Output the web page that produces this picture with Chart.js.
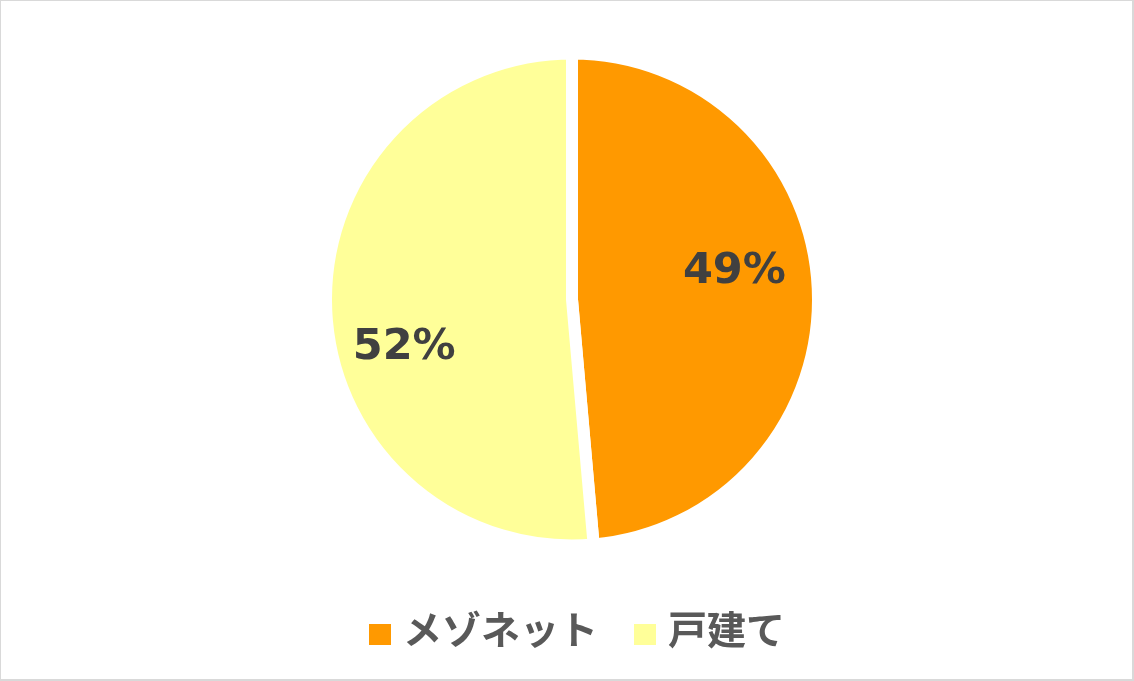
<!DOCTYPE html>
<html lang="ja">
<head>
<meta charset="utf-8">
<title>メゾネット / 戸建て</title>
<script src="https://cdn.jsdelivr.net/npm/chart.js@4.4.1/dist/chart.umd.min.js"></script>
<style>
    html, body { margin: 0; padding: 0; background: #fff; }
    #wrap {
        position: relative;
        width: 1134px;
        height: 681px;
        box-sizing: border-box;
        border: 1px solid #d9d9d9;
        border-right-width: 2px;
        border-bottom-width: 2px;
        background: #fff;
    }
    #legend {
        position: absolute;
        left: 368px;
        top: 606px;
        height: 40px;
        display: flex;
        align-items: center;
        font: bold 39px 'Noto Sans CJK JP', 'Noto Sans', sans-serif;
        line-height: 40px;
        color: #595959;
        white-space: nowrap;
    }
    #legend .item { display: flex; align-items: center; margin-right: 36px; }
    #legend .box { width: 22px; height: 21px; margin-right: 12px; transform: translateY(7px); }
</style>
</head>
<body>
<div id="wrap">
    <canvas id="pieChart"></canvas>
    <div id="legend"></div>
</div>
<script>
// categories and values (share of answers, %)
const categories = ['メゾネット', '戸建て'];
const shares = [48.6, 51.4];
// labels as printed on the slices
const shareLabels = ['49%', '52%'];
const sliceColors = ['#FF9900', '#FFFF99'];

// draws the percent text inside each slice
const sliceLabelPlugin = {
    id: 'sliceLabels',
    afterDatasetsDraw(chart, args, opts) {
        const meta = chart.getDatasetMeta(0);
        const ctx = chart.ctx;
        ctx.save();
        ctx.font = opts.font;
        ctx.fillStyle = opts.color;
        ctx.textAlign = 'center';
        ctx.textBaseline = 'middle';
        meta.data.forEach((arc, i) => {
            const p = arc.getProps(['x', 'y', 'startAngle', 'endAngle', 'outerRadius'], true);
            const a = (p.startAngle + p.endAngle) / 2 + opts.shift[i] * Math.PI / 180;
            const r = p.outerRadius * opts.dist[i];
            ctx.fillText(shareLabels[i], p.x + Math.cos(a) * r, p.y + Math.sin(a) * r);
        });
        ctx.restore();
    }
};

const chart = new Chart(document.getElementById('pieChart'), {
    type: 'pie',
    data: {
        labels: categories,
        datasets: [{
            data: shares,
            backgroundColor: sliceColors,
            borderColor: '#ffffff',
            borderWidth: 12,
            hoverOffset: 0
        }]
    },
    options: {
        responsive: true,
        maintainAspectRatio: false,
        animation: false,
        radius: 246,
        layout: { padding: { top: 40, bottom: 121, left: 11, right: 0 } },
        plugins: {
            tooltip: { enabled: false },
            legend: { display: false },
            sliceLabels: {
                font: "bold 43px 'DejaVu Sans', Verdana, sans-serif",
                color: '#404040',
                shift: [-7.3, -13.6],
                dist: [0.67, 0.71]
            }
        }
    },
    plugins: [sliceLabelPlugin]
});

// legend built from the chart's own labels and colours
const legendEl = document.getElementById('legend');
chart.data.labels.forEach((name, i) => {
    const item = document.createElement('div');
    item.className = 'item';
    const box = document.createElement('span');
    box.className = 'box';
    box.style.background = chart.data.datasets[0].backgroundColor[i];
    const txt = document.createElement('span');
    txt.textContent = name;
    item.appendChild(box);
    item.appendChild(txt);
    legendEl.appendChild(item);
});
</script>
</body>
</html>
